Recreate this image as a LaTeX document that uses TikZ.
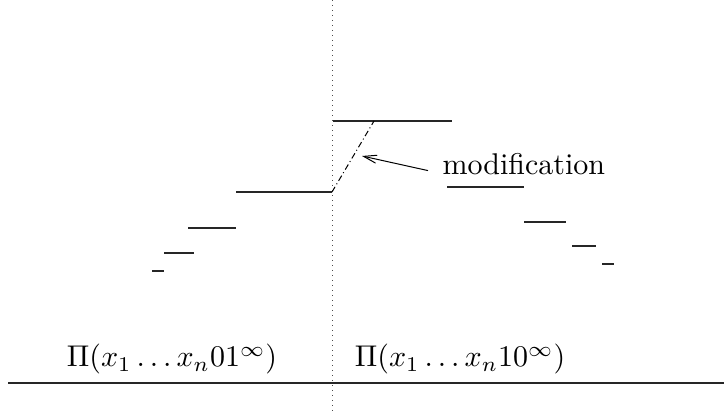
\documentclass[tikz,border=0pt]{standalone}
\usepackage{amsmath}
\usetikzlibrary{arrows.meta}

\begin{document}
\begin{tikzpicture}[x=0.5pt, y=-0.5pt, >={Straight Barb[length=6.5pt,width=4pt]},
  stair/.style={line width=0.7pt, black!85},
  guide/.style={dotted, line width=0.5pt, black!70},
  txt/.style={scale=1.5, transform shape}]
\useasboundingbox (0,0) rectangle (724,411);
\draw[guide] (332,0) -- (332,411);
\draw[stair] (8,383) -- (724,383);
% left side of the jump
\draw[stair] (152,271) -- (164,271);
\draw[stair] (164,253) -- (194,253);
\draw[stair] (188,228) -- (236,228);
\draw[stair] (236,192) -- (332,192);
% right side of the jump
\draw[stair] (333,121) -- (452,121);
\draw[stair] (447,187) -- (524,187);
\draw[stair] (524,222) -- (566,222);
\draw[stair] (572,246) -- (596,246);
\draw[stair] (602,264) -- (614,264);
\coordinate (jump) at (332,192);\coordinate (land) at (374,121);\coordinate (tip) at (362,156);
\draw[dash pattern=on 3pt off 1.5pt on 0.5pt off 1.5pt, line width=0.5pt] (jump) -- (land);
\node[txt, anchor=base west, inner sep=0pt] (mod) at (442,175) {modification};
\draw[->, line width=0.5pt] ([shift={(-14,6)}]mod.west) -- (tip);
\node[txt, anchor=base] (left) at (172,367) {$\Pi(x_1\ldots x_n01^\infty)$};
\node[txt, anchor=base] (right) at (460,367) {$\Pi(x_1\ldots x_n10^\infty)$};
\end{tikzpicture}
\end{document}
